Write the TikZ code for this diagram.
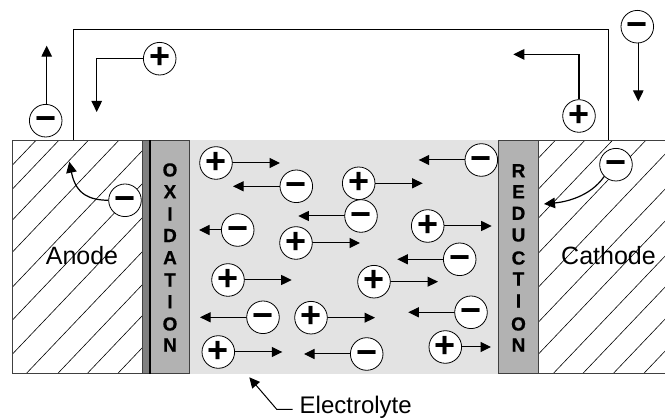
\documentclass[tikz,border=0pt]{standalone}
\usepackage{fontspec}
\setmainfont{Liberation Sans}[BoldFont={Liberation Sans Bold}]
\newfontfamily\stackfont{Liberation Sans Bold}[FakeBold=0.6]
\usetikzlibrary{arrows.meta}
\definecolor{edgegray}{HTML}{404040}
\definecolor{elecgray}{HTML}{E3E3E3}
\definecolor{layergray}{HTML}{B2B2B2}
\definecolor{stripgray}{HTML}{808080}
\tikzset{
  x=1pt,y=-1pt,
  ion/.style={circle,draw=black,fill=white,line width=0.8pt,minimum size=32.6pt,inner sep=0pt,
    text height=20.6pt,text depth=0pt,
    font=\bfseries\fontsize{36}{36}\selectfont,text=black},
  flow/.style={draw=black,line width=1.2pt,-{Triangle[length=11pt,width=10.5pt]}},
  thinflow/.style={draw=black,line width=1pt,-{Triangle[length=10.5pt,width=10pt]}},
  wire/.style={draw=black,line width=1.4pt},
  slab/.style={draw=edgegray,line width=1pt},
  hatchline/.style={draw=black,line width=0.6pt},
  stackletter/.style={inner sep=0pt,font=\stackfont\fontsize{19}{19}\selectfont,text=black},
  biglabel/.style={inner sep=0pt,anchor=base,font=\fontsize{25}{25}\selectfont,text=black},
}
\begin{document}
\begin{tikzpicture}
\useasboundingbox (0,0) rectangle (665,419);
% electrolyte
\fill[elecgray] (142,140) rectangle (499,374);
% anode
\begin{scope}
\clip (12.5,140.5) rectangle (142.5,374);
\foreach \c in {165,189,220,252,287,320,354,388,421,452,484}
  \draw[hatchline] (12.5,\c) -- ++(140,-147);
\end{scope}
\draw[slab] (12.5,140.5) rectangle (142.5,374);
% cathode
\begin{scope}
\clip (538.5,140.5) rectangle (665,374);
\foreach \c in {158,189,218,253,287,322,354,389,420,452,484}
  \draw[hatchline] (538.5,\c) -- ++(140,-147);
\end{scope}
\draw[slab] (665,140.5) -- (538.5,140.5) -- (538.5,374) -- (665,374);
% layers
\draw[slab,fill=stripgray] (142.5,140.5) rectangle (150,374);
\draw[slab,fill=layergray] (150,140.5) rectangle (189.5,374);
\draw[black,line width=1.2pt] (150,140.5) -- (150,374);
\draw[slab,fill=layergray] (498.5,140.5) rectangle (538.5,374);
% layer letters
\foreach \l/\y [count=\i] in {O/170,X/191.7,I/214,D/235.5,A/257.7,T/280,I/301.7,O/324,N/345}
  \node[stackletter] (ox\i) at (170,\y) {\l};
\foreach \l/\y [count=\i] in {R/170.7,E/191.7,D/213.3,U/235,C/258,T/279,I/301,O/324,N/345}
  \node[stackletter] (re\i) at (518.5,\y) {\l};
% labels
\node[biglabel] (anode) at (82,265) {Anode};
\node[biglabel] (cathode) at (608.5,265) {Cathode};
\node[inner sep=0pt,anchor=base west,font=\fontsize{24}{24}\selectfont,text=black] (electrolyte) at (299.5,413.8) {Electrolyte};
% external wire
\coordinate (wa) at (73.7,140.5);
\coordinate (wb) at (73.7,29.5);
\coordinate (wc) at (608.7,29.5);
\coordinate (wd) at (608.7,140.5);
\draw[wire] (wa) -- (wb) -- (wc) -- (wd);
% electrolyte ions
\foreach \n/\s/\x/\y/\t in {
  p1/+/216/163/280,
  m1/−/296.3/186.3/233,
  p2/+/358.7/183.3/422.7,
  m2/−/481.3/160/418.7,
  m3/−/361/216/298.3,
  m4/−/237.7/230/199,
  p3/+/296/243/360,
  p4/+/427.7/226/491.7,
  m5/−/459.7/259.3/397.3,
  p5/+/228/280/291.7,
  p6/+/374/281.7/438,
  m6/−/263/317.3/200,
  p7/+/311/317.7/375,
  m7/−/471/312.3/408.3,
  p8/+/445.3/347/491,
  p9/+/218.3/352/282.3,
  m8/−/366.7/354/304}
{
  \coordinate (\n t) at (\t,\y);
  \draw[thinflow] (\x,\y) -- (\n t);
  \node[ion] (\n) at (\x,\y) {\s};
}
% outer ions
\node[ion] (ma) at (45.7,120.7) {−};
\coordinate (mat) at (46.7,45.7);
\draw[flow] (ma.north -| mat) -- (mat);
\node[ion] (pa) at (159.7,58.7) {+};
\coordinate (pab) at (96.7,58.7);
\coordinate (pat) at (96.7,112);
\draw[flow] (pa.west) -- (pab) -- (pat);
\node[ion] (mb) at (125,200.3) {−};
\coordinate (mbt) at (69.3,161.7);
\draw[flow] (mb.west) .. controls (90,200) and (76,195) .. (mbt);
\node[ion] (mc) at (637.3,26.7) {−};
\coordinate (mct) at (638.3,101.3);
\draw[flow] (mc.south -| mct) -- (mct);
\node[ion] (pb) at (579,116) {+};
\coordinate (pbb) at (579,54.4);
\coordinate (pbt) at (513.3,54.4);
\draw[flow] (pb.north) -- (pbb) -- (pbt);
\node[ion] (md) at (616,164.7) {−};
\coordinate (mdt) at (544,204);
\draw[flow] (md.south west) .. controls (590,197) and (565,202) .. (mdt);
% electrolyte pointer
\coordinate (lb) at (276.7,409.3);
\coordinate (lt) at (249.3,377.3);
\draw[thinflow] (electrolyte.west |- lb) ++(-7,0) -- (lb) -- (lt);
\end{tikzpicture}
\end{document}
